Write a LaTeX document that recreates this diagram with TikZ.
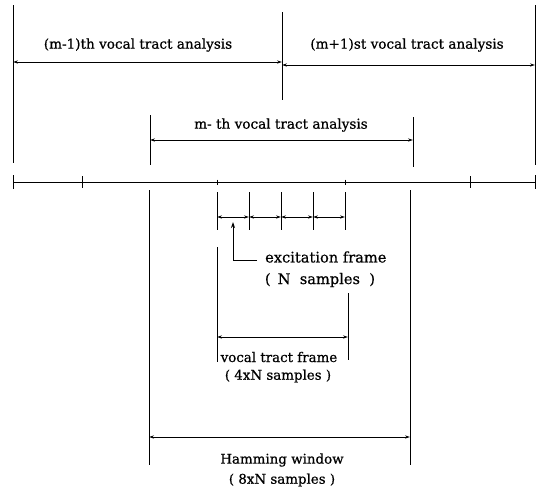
\documentclass[tikz,border=0pt]{standalone}
\usepackage{fontspec}
\setmainfont{DejaVu Serif}[FakeBold=0.7]
\usetikzlibrary{arrows.meta}
\begin{document}
\begin{tikzpicture}[x=1pt,y=-1pt,
  ln/.style={line width=0.9pt,black},
  dim/.style={line width=0.9pt,black,{Stealth[length=5pt,width=3.2pt]}-{Stealth[length=5pt,width=3.2pt]}},
  lbl/.style={font=\fontsize{13.6}{15}\selectfont,inner sep=0pt},
  lblb/.style={font=\fontsize{13.4}{15}\selectfont,inner sep=0pt},
  lblc/.style={font=\fontsize{14.6}{16}\selectfont,inner sep=0pt},
  tick/.style={line width=0.9pt}]
\useasboundingbox (0,0) rectangle (541,488);
% top verticals
\coordinate (L1) at (13,5);   \coordinate (L2) at (13,163);
\coordinate (M1) at (282,12); \coordinate (M2) at (282,100);
\coordinate (R1) at (535,5);  \coordinate (R2) at (535,165);
\draw[ln] (L1) -- (L2);
\draw[ln] (M1) -- (M2);
\draw[ln] (R1) -- (R2);
\coordinate (a1) at (13,62);  \coordinate (a2) at (282,62);
\coordinate (b1) at (282,65); \coordinate (b2) at (535,65);
\draw[dim] (a1) -- (a2);
\draw[dim] (b1) -- (b2);
\node[lbl] (t1) at (138,45) {(m-1)th vocal tract analysis};
\node[lbl] (t2) at (407,45) {(m+1)st vocal tract analysis};
% m-th
\coordinate (mL1) at (150,115); \coordinate (mL2) at (150,165);
\coordinate (mR1) at (413,117); \coordinate (mR2) at (413,167);
\draw[ln] (mL1) -- (mL2);
\draw[ln] (mR1) -- (mR2);
\coordinate (m1) at (150,140); \coordinate (m2) at (413,140);
\draw[dim] (m1) -- (m2);
\node[lbl] (t3) at (281,125) {m- th vocal tract analysis};
% timeline
\coordinate (T1) at (13,182); \coordinate (T2) at (535,182);
\draw[ln] (T1) -- (T2);
\foreach \x/\h in {13/7,82/6,470/6,535/7,217/2.5,345/2.5}
  \draw[tick] (\x,182-\h) -- (\x,182+\h);
% Hamming window
\coordinate (hL1) at (149,190); \coordinate (hL2) at (149,465);
\coordinate (hR1) at (410,190); \coordinate (hR2) at (410,465);
\draw[ln] (hL1) -- (hL2);
\draw[ln] (hR1) -- (hR2);
\coordinate (h1) at (149,437); \coordinate (h2) at (410,437);
\draw[dim] (h1) -- (h2);
\node[lblb] (t4) at (282,460) {Hamming window};
\node[lblb] (t5) at (282,480) {( 8xN samples )};
% excitation frames
\foreach \x [count=\i] in {217,249,281,313,345}{
  \coordinate (e\i a) at (\x,192); \coordinate (e\i b) at (\x,230);
  \draw[ln] (e\i a) -- (e\i b);
  \coordinate (e\i) at (\x,217);
}
\foreach \i/\j in {1/2,2/3,3/4,4/5} \draw[dim] (e\i) -- (e\j);
\coordinate (p0) at (257,260); \coordinate (p1) at (233,260); \coordinate (p2) at (233,222);
\draw[ln,-{Stealth[length=6pt,width=4pt]}] (p0) -- (p1) -- (p2);
\node[lblc,anchor=west] (t6) at (265,257) {excitation frame};
\node[lblc] (t7) at (320,280) {(\,\ N\ \ samples\ \ )};
% vocal tract frame
\coordinate (vL1) at (217,247); \coordinate (vL2) at (217,362);
\coordinate (vR1) at (348,293); \coordinate (vR2) at (348,360);
\draw[ln] (vL1) -- (vL2);
\draw[ln] (vR1) -- (vR2);
\coordinate (v1) at (217,337); \coordinate (v2) at (348,337);
\draw[dim] (v1) -- (v2);
\node[lblb] (t8) at (279,357) {vocal tract frame};
\node[lblb] (t9) at (278,376) {( 4xN samples )};
\end{tikzpicture}
\end{document}
